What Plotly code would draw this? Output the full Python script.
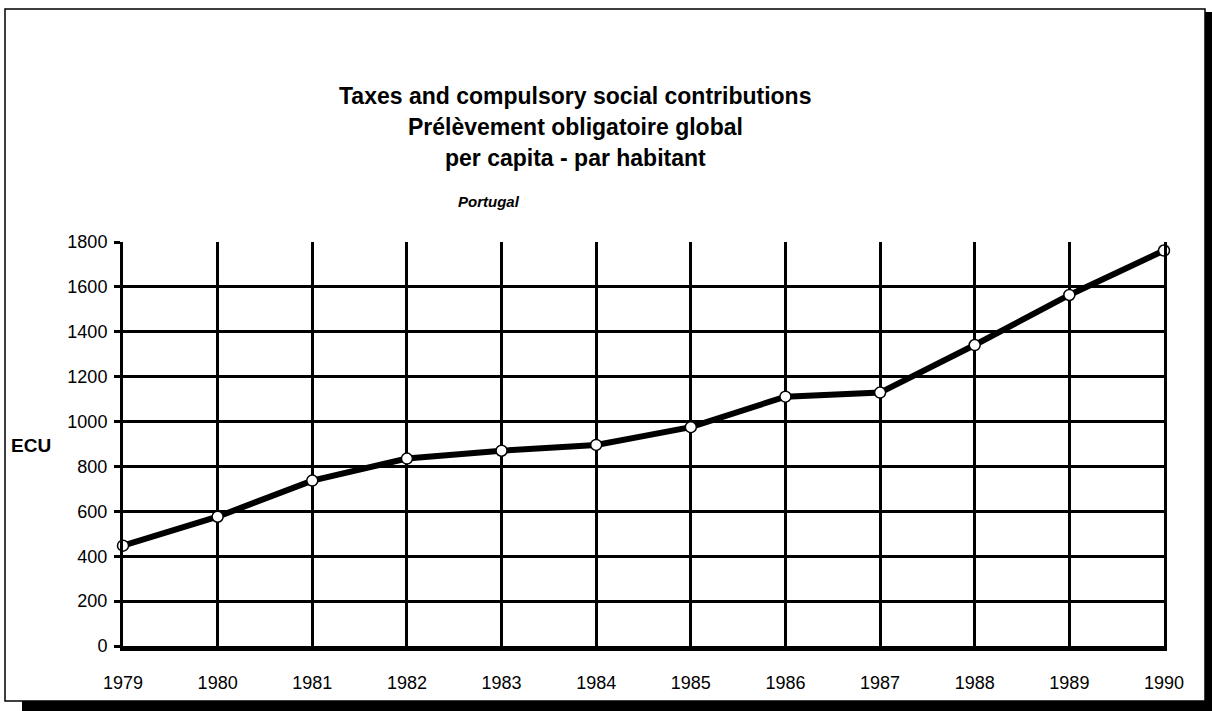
import plotly.graph_objects as go

years = [1979, 1980, 1981, 1982, 1983, 1984, 1985, 1986, 1987, 1988, 1989, 1990]
ecu = [447, 576, 737, 835, 870, 896, 975, 1111, 1129, 1341, 1564, 1762]
y_ticks = [0, 200, 400, 600, 800, 1000, 1200, 1400, 1600, 1800]

title_lines = [
    "Taxes and compulsory social contributions",
    "Prélèvement obligatoire global",
    "per capita - par habitant",
]
subtitle = "Portugal"
y_label = "ECU"

W, H = 1212, 711
L, R, T, B = 123, 48, 242, 65
PW, PH = W - L - R, H - T - B


def px(x):
    return (x - L) / PW


def py(y):
    return (H - B - y) / PH


FONT = "Liberation Sans, Arial, sans-serif"

fig = go.Figure()
fig.add_trace(go.Scatter(
    x=years, y=ecu, mode="lines+markers",
    line=dict(color="black", width=6),
    marker=dict(symbol="circle", size=11, color="white",
                line=dict(color="black", width=1.5)),
    cliponaxis=False, showlegend=False, hoverinfo="skip",
))

fig.update_layout(
    width=W, height=H,
    margin=dict(l=L, r=R, t=T, b=B),
    paper_bgcolor="white", plot_bgcolor="white",
    font=dict(family=FONT, color="black", size=18),
    xaxis=dict(
        range=[1979, 1990], tickmode="array", tickvals=years,
        ticktext=[str(y) for y in years],
        showgrid=True, gridcolor="black", gridwidth=3,
        zeroline=False, showline=True, linecolor="black", linewidth=5,
        ticks="", ticklabelstandoff=16,
        tickfont=dict(size=18, family=FONT),
    ),
    yaxis=dict(
        range=[0, 1800], tickmode="array", tickvals=y_ticks,
        showgrid=True, gridcolor="black", gridwidth=3,
        zeroline=False, showline=True, mirror=True,
        linecolor="black", linewidth=3,
        ticks="outside", ticklen=6, tickwidth=3, tickcolor="black",
        ticklabelstandoff=3,
        tickfont=dict(size=18, family=FONT),
    ),
)

title_y = [96, 127, 158]
for txt, yy in zip(title_lines, title_y):
    fig.add_annotation(
        x=px(575), y=py(yy), xref="paper", yref="paper",
        text=f"<b>{txt}</b>", showarrow=False,
        xanchor="center", yanchor="middle",
        font=dict(size=23, family=FONT, color="black"),
    )
fig.add_annotation(
    x=px(489), y=py(202), xref="paper", yref="paper",
    text=f"<b><i>{subtitle}</i></b>", showarrow=False,
    xanchor="center", yanchor="middle",
    font=dict(size=15, family=FONT, color="black"),
)
fig.add_annotation(
    x=px(9), y=py(445), xref="paper", yref="paper",
    text=f"<b>{y_label}</b>", showarrow=False,
    xanchor="left", yanchor="middle",
    font=dict(size=19, family=FONT, color="black"),
)

# frame and drop shadow
fig.add_shape(type="rect", xref="paper", yref="paper",
              x0=px(22), x1=px(1212), y0=py(711), y1=py(701),
              fillcolor="black", line=dict(width=0), layer="below")
fig.add_shape(type="rect", xref="paper", yref="paper",
              x0=px(1205), x1=px(1212), y0=py(711), y1=py(12),
              fillcolor="black", line=dict(width=0), layer="below")
fig.add_shape(type="rect", xref="paper", yref="paper",
              x0=px(5), x1=px(1205), y0=py(701), y1=py(9),
              line=dict(color="black", width=1.5), layer="below")

fig.write_html(
    "out.html",
    config={"displayModeBar": False},
    post_script="document.body.style.margin='0';document.body.style.overflow='hidden';",
)
